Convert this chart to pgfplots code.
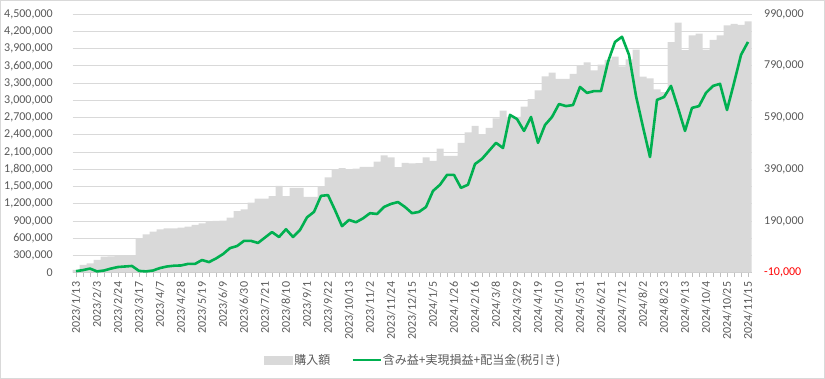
\documentclass[border=0pt]{standalone}
\usepackage{fontspec}
\setmainfont{Carlito}
\newfontfamily\cjk{Noto Sans CJK JP}
\usepackage{pgfplots}
\usepackage{pgfplotstable}
\pgfplotsset{compat=1.18}
\definecolor{bargray}{HTML}{D9D9D9}
\definecolor{gridgray}{HTML}{D9D9D9}
\definecolor{tickgray}{HTML}{BFBFBF}
\definecolor{textgray}{HTML}{595959}
\definecolor{lgreen}{HTML}{00B050}
\definecolor{bordergray}{HTML}{D9D9D9}

\pgfplotstableread{
i buy pl
0 50000 -4000
1 134000 0
2 163000 6000
3 221000 -5000
4 278000 -1500
5 283000 6000
6 290000 12000
7 290000 14000
8 296000 16000
9 590000 -3000
10 668000 -5000
11 714000 -1500
12 755000 8000
13 773000 14000
14 773000 17000
15 785000 18000
16 802000 24000
17 831000 24000
18 860000 39000
19 882000 31000
20 900000 45000
21 905000 62000
22 957000 85000
23 1070000 93000
24 1100000 113000
25 1220000 113000
26 1290000 105000
27 1290000 126000
28 1330000 147000
29 1510000 128000
30 1330000 158000
31 1475000 128000
32 1475000 155000
33 1320000 204000
34 1320000 225000
35 1490000 287000
36 1660000 290000
37 1785000 232000
38 1820000 170000
39 1800000 194000
40 1810000 185000
41 1840000 200000
42 1840000 220000
43 1930000 217000
44 2040000 244000
45 2005000 256000
46 1835000 263000
47 1910000 244000
48 1900000 220000
49 1905000 225000
50 2005000 244000
51 1945000 306000
52 2160000 330000
53 2030000 368000
54 2030000 368000
55 2260000 318000
56 2440000 330000
57 2555000 410000
58 2410000 430000
59 2520000 461000
60 2685000 492000
61 2820000 472000
62 2710000 600000
63 2710000 584000
64 2890000 538000
65 3020000 592000
66 3170000 492000
67 3415000 561000
68 3480000 592000
69 3370000 642000
70 3370000 634000
71 3460000 638000
72 3610000 708000
73 3660000 685000
74 3520000 692000
75 3620000 692000
76 3700000 805000
77 3760000 882000
78 3590000 902000
79 3710000 832000
80 3880000 673000
81 3410000 553000
82 3380000 437000
83 3190000 658000
84 3140000 669000
85 4010000 712000
86 4350000 627000
87 3870000 538000
88 4130000 627000
89 4160000 634000
90 3880000 685000
91 4050000 712000
92 4130000 720000
93 4300000 619000
94 4330000 723000
95 4310000 832000
96 4370000 882000
}\datatable

\pgfplotsset{
  common/.style={
    at={(72.5bp,106.3bp)}, anchor=south west,
    width=679bp, height=258.7bp, scale only axis,
    xmin=-0.5, xmax=96.5,
    scaled y ticks=false, scaled x ticks=false,
    tick label style={font=\fontsize{12bp}{14bp}\selectfont, text=textgray},
  },
  barlegend/.style={legend image code/.code={\fill[bargray] (0bp,-4.5bp) rectangle (29bp,4.5bp);}},
  linelegend/.style={legend image code/.code={\draw[lgreen, line width=2.6bp] (0bp,0bp) -- (28bp,0bp);}},
}

\begin{document}
\begin{tikzpicture}
\useasboundingbox (0,0) rectangle (825bp,379bp);
\draw[bordergray, line width=1bp] (0.5bp,0.5bp) rectangle (824.5bp,378.5bp);

\begin{axis}[common,
  ymin=0, ymax=4500000,
  axis x line*=bottom, axis y line*=left,
  x axis line style={-, draw=tickgray, line width=0.75bp},
  y axis line style={draw=none},
  ytick={0,300000,600000,900000,1200000,1500000,1800000,2100000,2400000,2700000,3000000,3300000,3600000,3900000,4200000,4500000},
  yticklabels={0,{300,000},{600,000},{900,000},{1,200,000},{1,500,000},{1,800,000},{2,100,000},{2,400,000},{2,700,000},{3,000,000},{3,300,000},{3,600,000},{3,900,000},{4,200,000},{4,500,000}},
  ytick style={draw=none},
  yticklabel style={anchor=east, inner sep=0pt},
  yticklabel shift=15.5bp,
  ymajorgrids, grid style={gridgray, line width=0.75bp},
  xtick={0,3,...,96},
  minor xtick={0,...,96},
  xticklabels={2023/1/13,2023/2/3,2023/2/24,2023/3/17,2023/4/7,2023/4/28,2023/5/19,2023/6/9,2023/6/30,2023/7/21,2023/8/10,2023/9/1,2023/9/22,2023/10/13,2023/11/2,2023/11/24,2023/12/15,2024/1/5,2024/1/26,2024/2/16,2024/3/8,2024/3/29,2024/4/19,2024/5/10,2024/5/31,2024/6/21,2024/7/12,2024/8/2,2024/8/23,2024/9/13,2024/10/4,2024/10/25,2024/11/15},
  xticklabel style={rotate=90, anchor=east, inner sep=0pt},
  xticklabel shift=5bp,
  tick align=outside, major tick length=4bp, minor tick length=4bp,
  xtick style={draw=tickgray, line width=0.75bp},
  minor x tick style={draw=tickgray, line width=0.75bp},
  legend columns=2,
  legend style={at={(0.5013,-0.3375)}, anchor=center, draw=none, fill=none,
    font=\cjk\fontsize{12bp}{14bp}\selectfont, text=textgray,
    /tikz/every even column/.append style={column sep=20bp},
    nodes={inner sep=1bp}},
]
\addplot[ybar, bar width=7bp, fill=bargray, draw=none, barlegend]
  table[x=i, y=buy]{\datatable};
\addlegendentry{購入額}
\addlegendimage{linelegend}
\addlegendentry{含み益+実現損益+配当金(税引き)}
\end{axis}

\begin{axis}[common,
  ymin=-10000, ymax=990000,
  hide x axis,
  axis y line*=right,
  y axis line style={draw=none},
  ytick={-10000,190000,390000,590000,790000,990000},
  yticklabels={{\textcolor{red}{-10,000}},{190,000},{390,000},{590,000},{790,000},{990,000}},
  ytick style={draw=none},
  yticklabel style={anchor=west, inner sep=0pt},
  yticklabel shift=12.5bp,
  clip=false,
]
\addplot[lgreen, line width=2.6bp, line join=round, mark=none]
  table[x=i, y=pl]{\datatable};
\end{axis}
\end{tikzpicture}
\end{document}
